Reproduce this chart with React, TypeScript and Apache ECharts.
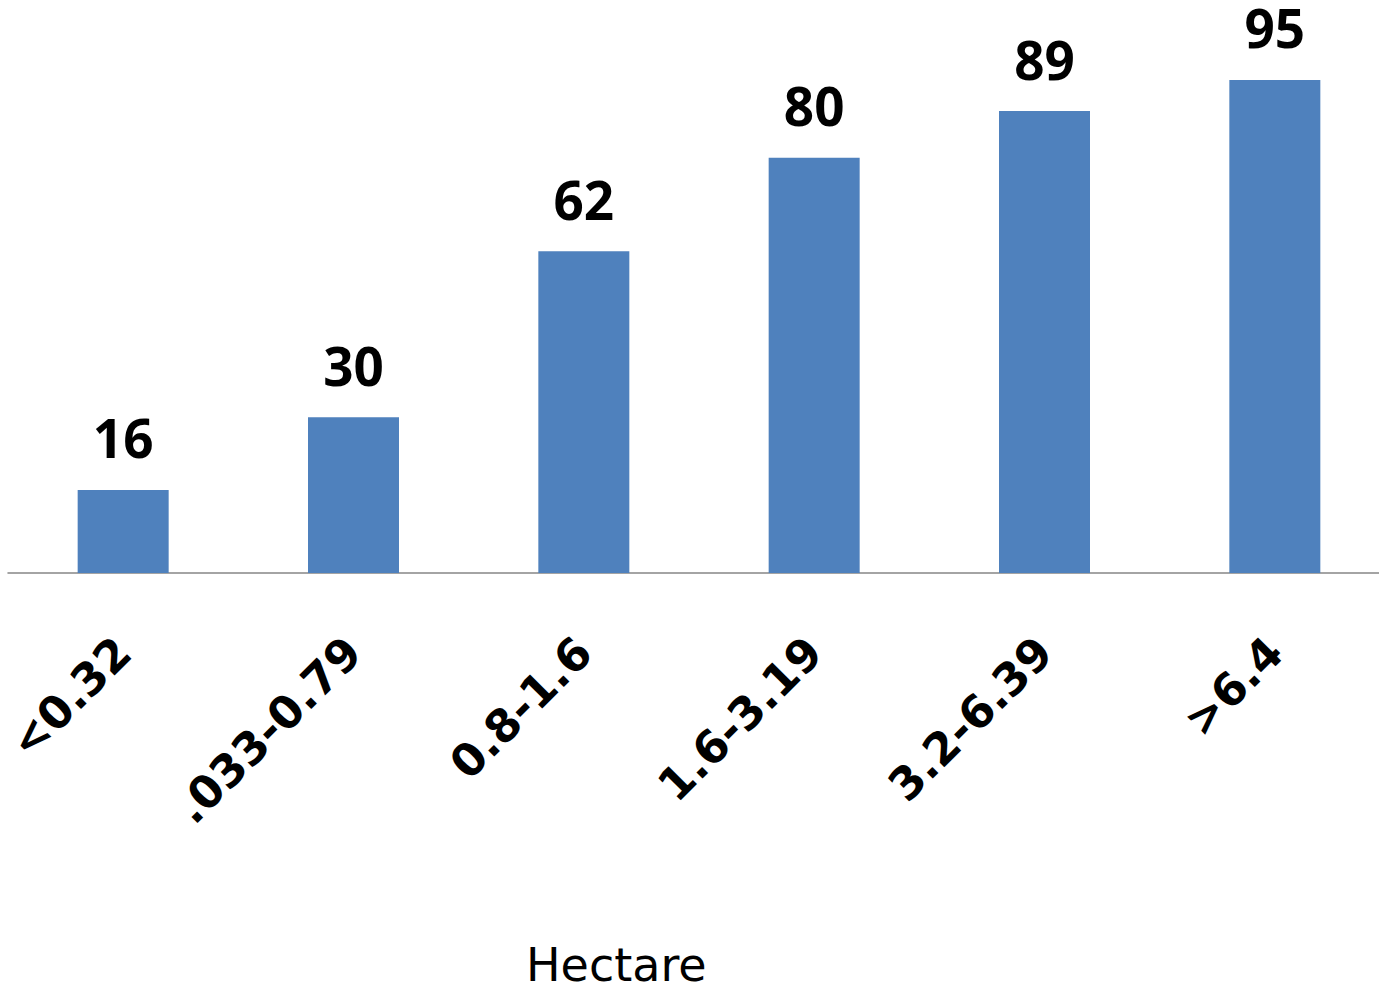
import React, { useEffect, useRef } from "react";
import * as echarts from "echarts";

const categories = ["<0.32", ".033-0.79", "0.8-1.6", "1.6-3.19", "3.2-6.39", ">6.4"];
const values = [16, 30, 62, 80, 89, 95];
const axisName = "Hectare";

export default function App() {
  const ref = useRef<HTMLDivElement>(null);
  useEffect(() => {
    if (!ref.current) return;
    const chart = echarts.init(ref.current, undefined, { renderer: "svg" });
    chart.setOption({
      animation: false,
      grid: { left: 8, top: 54, width: 1382, height: 519, containLabel: false, outerBoundsMode: "none" },
      xAxis: {
        type: "category",
        data: categories,
        axisLine: { lineStyle: { color: "#868686", width: 1.5 } },
        axisTick: { show: false },
        axisLabel: {
          rotate: 45,
          margin: 72,
          interval: 0,
          color: "#000",
          fontFamily: "DejaVu Sans",
          fontWeight: "bold",
          fontSize: 45,
        },
      },
      yAxis: { type: "value", min: 0, max: 100, show: false, splitLine: { show: false } },
      series: [
        {
          type: "bar",
          data: values,
          barWidth: 91,
          itemStyle: { color: "#4F81BD" },
          label: {
            show: true,
            position: "top",
            distance: 32,
            lineHeight: 40,
            color: "#000",
            fontFamily: "Open Sans",
            fontWeight: "bold",
            fontSize: 53,
          },
        },
      ],
      graphic: [
        {
          type: "text",
          x: 526,
          y: 965,
          style: {
            text: axisName,
            fontFamily: "DejaVu Sans",
            fontSize: 46,
            lineHeight: 38,
            fill: "#000",
            verticalAlign: "middle",
          },
        },
      ],
    });
    return () => chart.dispose();
  }, []);
  return (
    <div style={{ width: 1379, height: 989, overflow: "hidden", position: "absolute", left: 0, top: 0 }}>
      <div ref={ref} style={{ width: 1400, height: 989 }} />
    </div>
  );
}
